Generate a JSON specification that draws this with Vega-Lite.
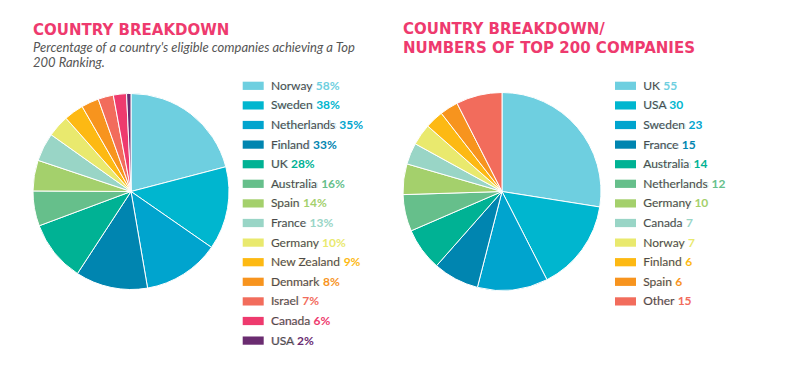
{
  "$schema": "https://vega.github.io/schema/vega-lite/v6.json",
  "padding": {"left": 31, "top": 21, "right": 5, "bottom": 5},
  "background": "white",
  "config": {
    "view": {"stroke": null},
    "font": "Lato",
    "title": {"font": "DejaVu Sans", "subtitleFont": "Lato"}
  },
  "datasets": {
    "left": [
      {"country": "Norway", "value": 58, "rank": 1},
      {"country": "Sweden", "value": 38, "rank": 2},
      {"country": "Netherlands", "value": 35, "rank": 3},
      {"country": "Finland", "value": 33, "rank": 4},
      {"country": "UK", "value": 28, "rank": 5},
      {"country": "Australia", "value": 16, "rank": 6},
      {"country": "Spain", "value": 14, "rank": 7},
      {"country": "France", "value": 13, "rank": 8},
      {"country": "Germany", "value": 10, "rank": 9},
      {"country": "New Zealand", "value": 9, "rank": 10},
      {"country": "Denmark", "value": 8, "rank": 11},
      {"country": "Israel", "value": 7, "rank": 12},
      {"country": "Canada", "value": 6, "rank": 13},
      {"country": "USA", "value": 2, "rank": 14}
    ],
    "right": [
      {"country": "UK", "value": 55, "rank": 1},
      {"country": "USA", "value": 30, "rank": 2},
      {"country": "Sweden", "value": 23, "rank": 3},
      {"country": "France", "value": 15, "rank": 4},
      {"country": "Australia", "value": 14, "rank": 5},
      {"country": "Netherlands", "value": 12, "rank": 6},
      {"country": "Germany", "value": 10, "rank": 7},
      {"country": "Canada", "value": 7, "rank": 8},
      {"country": "Norway", "value": 7, "rank": 9},
      {"country": "Finland", "value": 6, "rank": 10},
      {"country": "Spain", "value": 6, "rank": 11},
      {"country": "Other", "value": 15, "rank": 12}
    ]
  },
  "resolve": {"scale": {"y": "independent", "theta": "independent"}},
  "bounds": "flush",
  "spacing": 370,
  "hconcat": [
    {
      "bounds": "flush",
      "spacing": 13.7,
      "resolve": {"scale": {"y": "independent", "theta": "independent"}},
      "hconcat": [
        {
          "data": {"name": "left"},
          "width": 196,
          "height": 231,
          "title": {
            "text": "COUNTRY BREAKDOWN",
            "subtitle": ["Percentage of a country's eligible companies achieving a Top", "200 Ranking."],
            "anchor": "start",
            "frame": "group",
            "fontSize": 15,
            "fontWeight": "bold",
            "color": "#EE3A6E",
            "subtitleFontSize": 13,
            "subtitleFontStyle": "italic",
            "subtitleColor": "#555555",
            "subtitleLineHeight": 15.5,
            "subtitlePadding": 4,
            "offset": 6
          },
          "mark": {"type": "arc", "outerRadius": 98, "stroke": "white", "strokeWidth": 1},
          "encoding": {
            "theta": {"field": "value", "type": "quantitative", "stack": true},
            "order": {"field": "rank", "type": "quantitative"},
            "color": {
              "field": "rank", "type": "ordinal", "legend": null,
              "scale": {
                "domain": [1,2,3,4,5,6,7,8,9,10,11,12,13,14],
                "range": ["#6ECFE0","#00B6CF","#00A4CE","#0085B0","#00B294","#66BF8B","#A4D06C","#99D5C6","#E9E96E","#FDB913","#F7941E","#F26C5C","#EE3A6E","#6A2C70"]
              }
            }
          }
        },
        {
          "data": {"name": "left"},
          "width": 21,
          "height": {"step": 19.6},
          "transform": [{"calculate": "datum.country + ' ' + datum.value + '%'", "as": "label"}],
          "encoding": {
            "y": {"field": "rank", "type": "ordinal", "axis": null, "scale": {"paddingInner": 0, "paddingOuter": 0}}
          },
          "layer": [
            {
              "mark": {"type": "bar", "height": {"band": 0.42}},
              "encoding": {"color": {"field": "rank", "type": "ordinal", "legend": null}}
            },
            {
              "mark": {"type": "text", "align": "left", "baseline": "middle", "dx": 17.7, "fontSize": 12, "fontWeight": "bold"},
              "encoding": {"text": {"field": "label"}, "color": {"field": "rank", "type": "ordinal", "legend": null}}
            },
            {
              "mark": {"type": "text", "align": "left", "baseline": "middle", "dx": 17.7, "fontSize": 12, "fontWeight": "bold", "color": "white"},
              "encoding": {"text": {"field": "country"}}
            },
            {
              "mark": {"type": "text", "align": "left", "baseline": "middle", "dx": 17.7, "fontSize": 12, "color": "#4A4A4A"},
              "encoding": {"text": {"field": "country"}}
            }
          ]
        }
      ]
    },
    {
      "bounds": "flush",
      "spacing": 14,
      "resolve": {"scale": {"y": "independent", "theta": "independent"}},
      "hconcat": [
        {
          "data": {"name": "right"},
          "width": 198,
          "height": 231,
          "title": {
            "text": ["COUNTRY BREAKDOWN/", "NUMBERS OF TOP 200 COMPANIES"],
            "anchor": "start",
            "frame": "group",
            "fontSize": 15,
            "fontWeight": "bold",
            "color": "#EE3A6E",
            "lineHeight": 19.3,
            "offset": 20
          },
          "mark": {"type": "arc", "outerRadius": 99, "stroke": "white", "strokeWidth": 1},
          "encoding": {
            "theta": {"field": "value", "type": "quantitative", "stack": true},
            "order": {"field": "rank", "type": "quantitative"},
            "color": {"field": "rank", "type": "ordinal", "legend": null}
          }
        },
        {
          "data": {"name": "right"},
          "width": 21,
          "height": {"step": 19.6},
          "transform": [{"calculate": "datum.country + ' ' + datum.value", "as": "label"}],
          "encoding": {
            "y": {"field": "rank", "type": "ordinal", "axis": null, "scale": {"paddingInner": 0, "paddingOuter": 0}}
          },
          "layer": [
            {
              "mark": {"type": "bar", "height": {"band": 0.42}},
              "encoding": {"color": {"field": "rank", "type": "ordinal", "legend": null}}
            },
            {
              "mark": {"type": "text", "align": "left", "baseline": "middle", "dx": 17.7, "fontSize": 12, "fontWeight": "bold"},
              "encoding": {"text": {"field": "label"}, "color": {"field": "rank", "type": "ordinal", "legend": null}}
            },
            {
              "mark": {"type": "text", "align": "left", "baseline": "middle", "dx": 17.7, "fontSize": 12, "fontWeight": "bold", "color": "white"},
              "encoding": {"text": {"field": "country"}}
            },
            {
              "mark": {"type": "text", "align": "left", "baseline": "middle", "dx": 17.7, "fontSize": 12, "color": "#4A4A4A"},
              "encoding": {"text": {"field": "country"}}
            }
          ]
        }
      ]
    }
  ]
}
